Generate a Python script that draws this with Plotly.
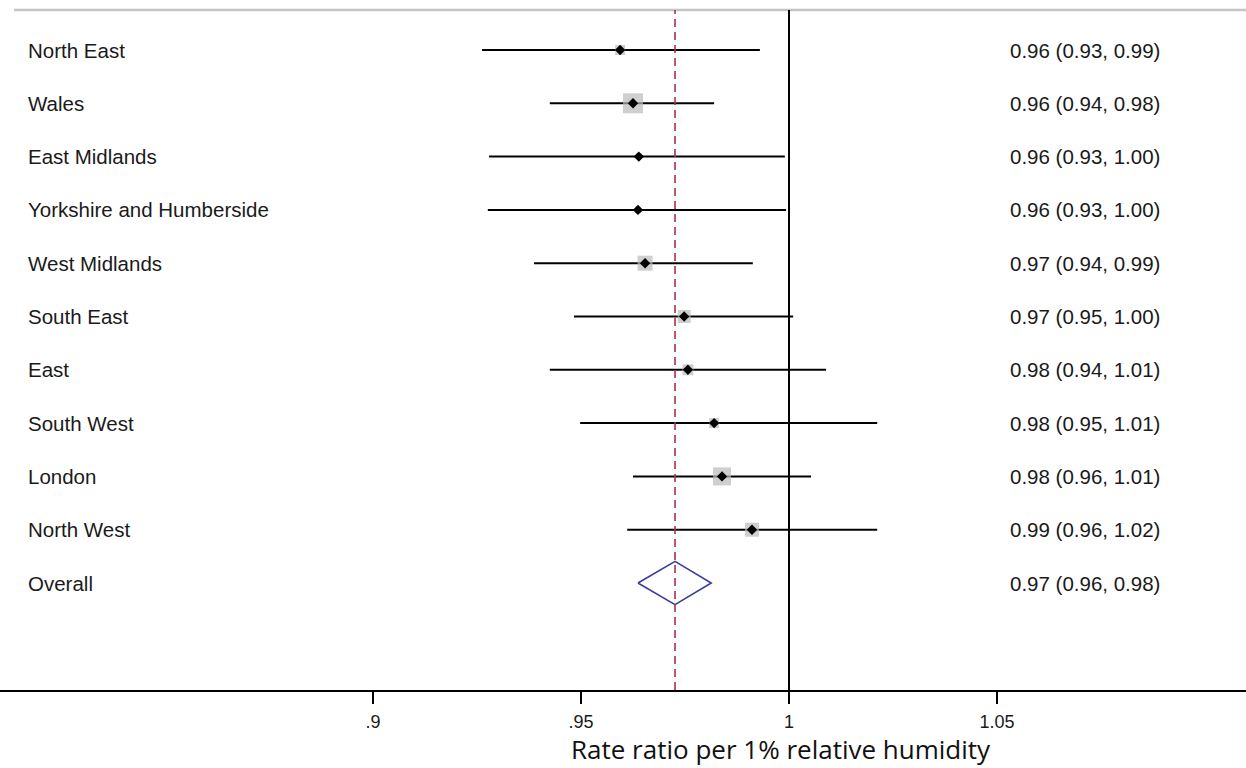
import numpy as np
import plotly.graph_objects as go

regions = ["North East", "Wales", "East Midlands", "Yorkshire and Humberside",
           "West Midlands", "South East", "East", "South West", "London", "North West"]
estimate = [0.9594, 0.9625, 0.9639, 0.9637, 0.9654, 0.9748, 0.9757, 0.9820, 0.9839, 0.9911]
ci_low = [0.9262, 0.9425, 0.9279, 0.9276, 0.9387, 0.9483, 0.9425, 0.9498, 0.9625, 0.9611]
ci_high = [0.9930, 0.9820, 0.9990, 0.9993, 0.9913, 1.0010, 1.0089, 1.0212, 1.0053, 1.0212]
weights = [5.9, 23.4, 2.1, 2.1, 13.2, 9.9, 7.1, 5.9, 19.0, 11.5]
ci_text = ["0.96 (0.93, 0.99)", "0.96 (0.94, 0.98)", "0.96 (0.93, 1.00)", "0.96 (0.93, 1.00)",
           "0.97 (0.94, 0.99)", "0.97 (0.95, 1.00)", "0.98 (0.94, 1.01)", "0.98 (0.95, 1.01)",
           "0.98 (0.96, 1.01)", "0.99 (0.96, 1.02)"]
overall_label = "Overall"
overall_est = 0.9726
overall_low = 0.9637
overall_high = 0.9813
overall_text = "0.97 (0.96, 0.98)"
tick_vals = [0.9, 0.95, 1.0, 1.05]
tick_text = [".9", ".95", "1", "1.05"]
x_title = "Rate ratio per 1% relative humidity"

W, H = 1246, 768
L, R, T, B = 0, 0, 10, 78
px_per_unit = 4160.0
x_at_left = 1 - 789 / px_per_unit
x_at_right = 1 + (W - 789) / px_per_unit
row_px = 53.3
first_row_px = 50
y_top = -(first_row_px - T) / row_px
y_bot = (H - B - first_row_px) / row_px

rows = list(range(len(regions)))
overall_row = len(regions)

fig = go.Figure()

# CI lines
cx, cy = [], []
for i in rows:
    cx += [ci_low[i], ci_high[i], None]
    cy += [i, i, None]
fig.add_trace(go.Scatter(x=cx, y=cy, mode="lines", line=dict(color="black", width=2),
                         hoverinfo="skip", showlegend=False))

# weight boxes
wmax = max(weights)
sizes = [20 * np.sqrt(w / wmax) for w in weights]
fig.add_trace(go.Scatter(x=estimate, y=rows, mode="markers",
                         marker=dict(symbol="square", size=sizes, color="#bababa",
                                     line=dict(width=0)),
                         showlegend=False))
# point estimates
fig.add_trace(go.Scatter(x=estimate, y=rows, mode="markers",
                         marker=dict(symbol="diamond", size=8, color="black", line=dict(width=0)),
                         showlegend=False))

# overall diamond
half_h = 0.405
fig.add_trace(go.Scatter(x=[overall_low, overall_est, overall_high, overall_est, overall_low],
                         y=[overall_row, overall_row - half_h, overall_row, overall_row + half_h, overall_row],
                         mode="lines", line=dict(color="#3b3b9c", width=1.6),
                         showlegend=False, hoverinfo="skip"))

shapes = [
    dict(type="line", xref="paper", yref="paper", x0=14 / W, x1=1, y0=1, y1=1,
         line=dict(color="#c4c4c4", width=2.5)),
    dict(type="line", xref="x", yref="paper", x0=1, x1=1, y0=0, y1=1,
         line=dict(color="black", width=2)),
    dict(type="line", xref="x", yref="paper", x0=overall_est, x1=overall_est, y0=0, y1=1,
         line=dict(color="#a8324a", width=1.6, dash="8px,5px")),
]

annotations = []
label_font = dict(family="Liberation Sans, Arial", size=20.5, color="#1a1a1a")
for i, (name, txt) in enumerate(zip(regions, ci_text)):
    annotations.append(dict(x=26 / W, xref="paper", y=i, yref="y", text=name, showarrow=False,
                            xanchor="left", yanchor="middle", font=label_font))
    annotations.append(dict(x=1008 / W, xref="paper", y=i, yref="y", text=txt, showarrow=False,
                            xanchor="left", yanchor="middle", font=label_font))
annotations.append(dict(x=26 / W, xref="paper", y=overall_row, yref="y", text=overall_label,
                        showarrow=False, xanchor="left", yanchor="middle", font=label_font))
annotations.append(dict(x=1008 / W, xref="paper", y=overall_row, yref="y", text=overall_text,
                        showarrow=False, xanchor="left", yanchor="middle", font=label_font))
plot_h = H - T - B
annotations.append(dict(x=781 / W, xref="paper", y=-(749 - (H - B)) / plot_h, yref="paper",
                        text=x_title, showarrow=False, xanchor="center", yanchor="middle",
                        font=dict(family="Open Sans, Lato", size=26, color="#111111")))

fig.update_layout(
    width=W, height=H,
    margin=dict(l=L, r=R, t=T, b=B),
    paper_bgcolor="white", plot_bgcolor="white",
    shapes=shapes, annotations=annotations,
    xaxis=dict(range=[x_at_left, x_at_right], tickmode="array", tickvals=tick_vals,
               ticktext=tick_text, showgrid=False, zeroline=False, showline=True,
               linecolor="black", linewidth=2, ticks="outside", ticklen=12, tickwidth=1.5,
               tickcolor="black", ticklabelstandoff=2,
               tickfont=dict(family="Liberation Sans, Arial", size=18, color="#1a1a1a")),
    yaxis=dict(range=[y_bot, y_top], showgrid=False, zeroline=False, showline=False,
               showticklabels=False, ticks=""),
)

fig.write_html("out.html")
